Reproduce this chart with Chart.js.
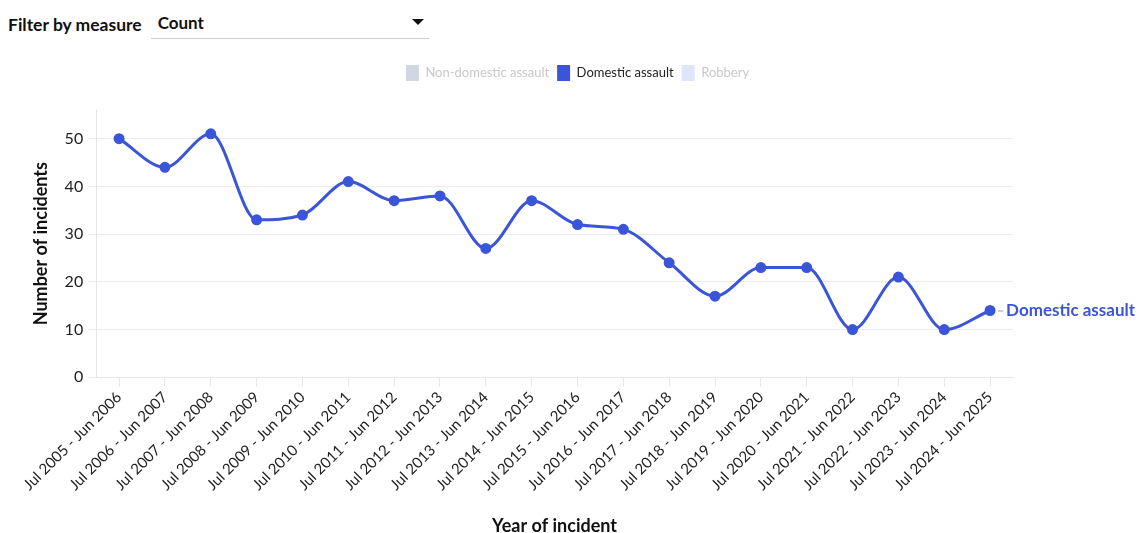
<!DOCTYPE html>
<html>
<head>
<meta charset="utf-8">
<script src="https://cdn.jsdelivr.net/npm/chart.js@4"></script>
<style>
  body { margin:0; background:#fff; font-family: Lato, "Noto Sans", sans-serif; color:#111; }
  #wrap { position:relative; width:1141px; height:533px; }
  #filter { position:absolute; left:8px; top:9px; display:flex; align-items:center; }
  #filter label { font-weight:700; font-size:17.5px; margin-right:9px; }
  #measure { position:relative; width:278px; height:29px; border-bottom:1px solid #ccc; }
  #measure span { position:absolute; left:7px; top:3px; font-size:17px; font-weight:700; }
  #measure i { position:absolute; right:5px; top:10px; width:0; height:0;
    border-left:6px solid transparent; border-right:6px solid transparent; border-top:6px solid #111; }
  #chartBox { position:absolute; left:0; top:50px; width:1141px; height:483px; }
</style>
</head>
<body>
<div id="wrap">
  <div id="filter"><label>Filter by measure</label><div id="measure"><span>Count</span><i></i></div></div>
  <div id="chartBox"><canvas id="incidents"></canvas></div>
</div>
<script>
/* data */
const periods = ["Jul 2005 - Jun 2006","Jul 2006 - Jun 2007","Jul 2007 - Jun 2008","Jul 2008 - Jun 2009",
  "Jul 2009 - Jun 2010","Jul 2010 - Jun 2011","Jul 2011 - Jun 2012","Jul 2012 - Jun 2013",
  "Jul 2013 - Jun 2014","Jul 2014 - Jun 2015","Jul 2015 - Jun 2016","Jul 2016 - Jun 2017",
  "Jul 2017 - Jun 2018","Jul 2018 - Jun 2019","Jul 2019 - Jun 2020","Jul 2020 - Jun 2021",
  "Jul 2021 - Jun 2022","Jul 2022 - Jun 2023","Jul 2023 - Jun 2024","Jul 2024 - Jun 2025"];
const domestic = [50,44,51,33,34,41,37,38,27,37,32,31,24,17,23,23,10,21,10,14];
const seriesNames = ["Non-domestic assault","Domestic assault","Robbery"];
const seriesColors = ["#d2d6e0","#3a55d8","#dfe6f9"];
const shown = [false,true,false];
const yTicks = [0,10,20,30,40,50];

const FONT = 'Lato, "Noto Sans", sans-serif';

/* extra room under the legend, and centre it on the whole canvas */
const legendGap = {
  id:"legendGap",
  beforeInit(chart){
    const fit = chart.legend.fit;
    chart.legend.fit = function(){
      fit.bind(chart.legend)();
      this.height += 19;
    };
  },
  afterLayout(chart){
    chart.legend.left = 14;
    chart.legend.right = chart.width;
  }
};

/* label at the end of the visible line */
const endLabel = {
  id:"endLabel",
  afterDatasetsDraw(chart){
    const meta = chart.getDatasetMeta(1);
    const pt = meta.data[meta.data.length-1];
    const ctx = chart.ctx;
    ctx.save();
    ctx.strokeStyle = "#999";
    ctx.lineWidth = 1;
    ctx.beginPath();
    ctx.moveTo(pt.x+8, pt.y+0.5);
    ctx.lineTo(pt.x+13, pt.y+0.5);
    ctx.stroke();
    ctx.fillStyle = seriesColors[1];
    ctx.font = "700 17px " + FONT;
    ctx.textBaseline = "middle";
    ctx.fillText(seriesNames[1], pt.x+16, pt.y);
    ctx.restore();
  }
};

new Chart(document.getElementById("incidents"), {
  type:"line",
  data:{
    labels:periods,
    datasets: seriesNames.map((name,i)=>({
      label:name,
      data: i===1 ? domestic : [],
      hidden: !shown[i],
      borderColor: seriesColors[i],
      backgroundColor: seriesColors[i],
      borderWidth:3,
      pointRadius:4,
      pointHoverRadius:5,
      cubicInterpolationMode:"monotone"
    }))
  },
  plugins:[legendGap, endLabel],
  options:{
    responsive:true,
    maintainAspectRatio:false,
    animation:false,
    layout:{padding:{left:26, right:128, top:7, bottom:0}},
    plugins:{
      legend:{
        position:"top",
        labels:{
          font:{family:FONT, size:13},
          boxWidth:13, boxHeight:16,
          useBorderRadius:true, borderRadius:3,
          padding:8,
          generateLabels(chart){
            return seriesNames.map((name,i)=>({
              text:name,
              fillStyle:seriesColors[i],
              strokeStyle:seriesColors[i],
              lineWidth:0,
              hidden:false,
              fontColor: shown[i] ? "#222" : "#c8c8c8",
              datasetIndex:i
            }));
          }
        }
      },
      tooltip:{enabled:true}
    },
    scales:{
      x:{
        offset:true,
        grid:{drawOnChartArea:false, offset:false, tickLength:9, color:"#e6e6e6"},
        border:{color:"#e6e6e6"},
        ticks:{font:{family:FONT, size:15}, color:"#222", maxRotation:45, minRotation:45, padding:2},
        title:{display:true, text:"Year of incident", font:{family:FONT, size:18, weight:"700", lineHeight:1}, color:"#111", padding:{top:21, bottom:-2}}
      },
      y:{
        min:0, max:56,
        afterBuildTicks(axis){ axis.ticks = yTicks.map(v=>({value:v})); },
        grid:{color:"#ececec", tickLength:8},
        border:{color:"#e6e6e6"},
        ticks:{font:{family:FONT, size:16}, color:"#222", padding:5},
        title:{display:true, text:"Number of incidents", font:{family:FONT, size:18, weight:"700"}, color:"#111", padding:{bottom:8}}
      }
    }
  }
});
</script>
</body>
</html>
